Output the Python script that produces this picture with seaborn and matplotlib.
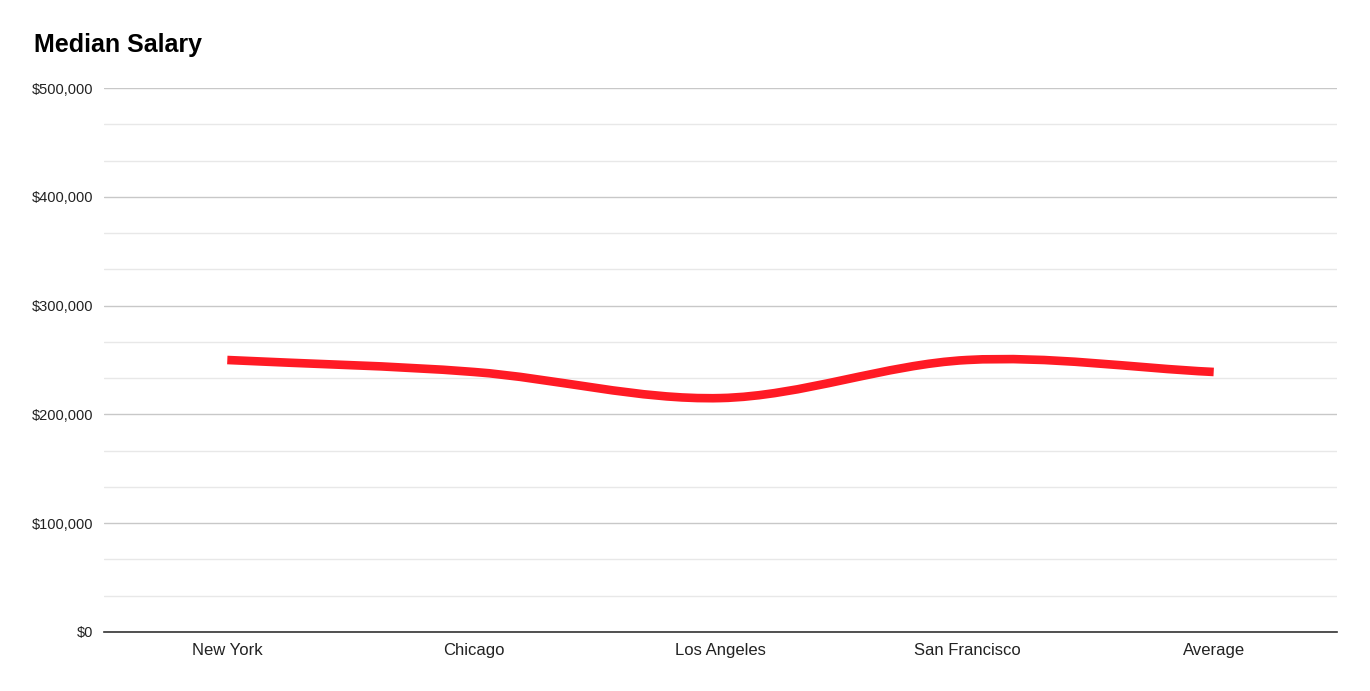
import numpy as np
import pandas as pd
import matplotlib
matplotlib.use("Agg")
import matplotlib.pyplot as plt
import seaborn as sns
from matplotlib.path import Path
from matplotlib.patches import PathPatch
from matplotlib.ticker import FuncFormatter, MultipleLocator, AutoMinorLocator

# data
cities = ["New York", "Chicago", "Los Angeles", "San Francisco", "Average"]
salaries = [250000, 239000, 215000, 250000, 239000]

df = pd.DataFrame({"city": cities, "salary": salaries})

sns.set_theme(style="white")
plt.rcParams["font.family"] = ["Liberation Sans", "DejaVu Sans"]

fig = plt.figure(figsize=(13.7, 6.91), dpi=100)
ax = fig.add_axes([104 / 1370, 1 - 632 / 691, 1233 / 1370, 544 / 691])

# seaborn sets up the categorical axis; the visible line is a smooth curve
sns.lineplot(data=df, x="city", y="salary", ax=ax, linewidth=0, sort=False)

# smooth line through the points (Catmull-Rom style Bezier segments)
xs = np.arange(len(salaries), dtype=float)
ys = np.array(salaries, dtype=float)
pts = np.column_stack([xs, ys])
n = len(pts)
tang = np.zeros_like(pts)
for i in range(n):
    a = pts[max(i - 1, 0)]
    b = pts[min(i + 1, n - 1)]
    tang[i] = (b - a) / (2 if 0 < i < n - 1 else 1)
verts = [tuple(pts[0])]
codes = [Path.MOVETO]
for i in range(n - 1):
    c1 = pts[i] + tang[i] / 3
    c2 = pts[i + 1] - tang[i + 1] / 3
    verts += [tuple(c1), tuple(c2), tuple(pts[i + 1])]
    codes += [Path.CURVE4] * 3
ax.add_patch(PathPatch(Path(verts, codes), facecolor="none", edgecolor="#ff1a24",
                       linewidth=6.2, capstyle="butt", joinstyle="round", zorder=3))

ax.set_xlim(-0.5, len(cities) - 0.5)
ax.set_ylim(0, 500000)
ax.yaxis.set_major_locator(MultipleLocator(100000))
ax.yaxis.set_minor_locator(AutoMinorLocator(3))
ax.yaxis.set_major_formatter(FuncFormatter(lambda v, p: f"${v:,.0f}"))
ax.grid(axis="y", which="major", color="#c8c8c8", linewidth=1)
ax.grid(axis="y", which="minor", color="#e8e8e8", linewidth=1)
ax.grid(axis="x", visible=False)
ax.set_axisbelow(True)

for s in ["top", "right", "left"]:
    ax.spines[s].set_visible(False)
ax.spines["bottom"].set_color("#333333")
ax.spines["bottom"].set_linewidth(1.2)

ax.tick_params(axis="y", which="both", length=0, pad=8, labelsize=10.5, labelcolor="#222222")
ax.tick_params(axis="x", length=0, pad=8, labelsize=12, labelcolor="#222222")
ax.set_xlabel("")
ax.set_ylabel("")

fig.text(34 / 1370, 1 - 45 / 691, "Median Salary", fontsize=18, fontweight="bold",
         color="#000000", va="center", ha="left")

fig.savefig("out.png", dpi=100)
